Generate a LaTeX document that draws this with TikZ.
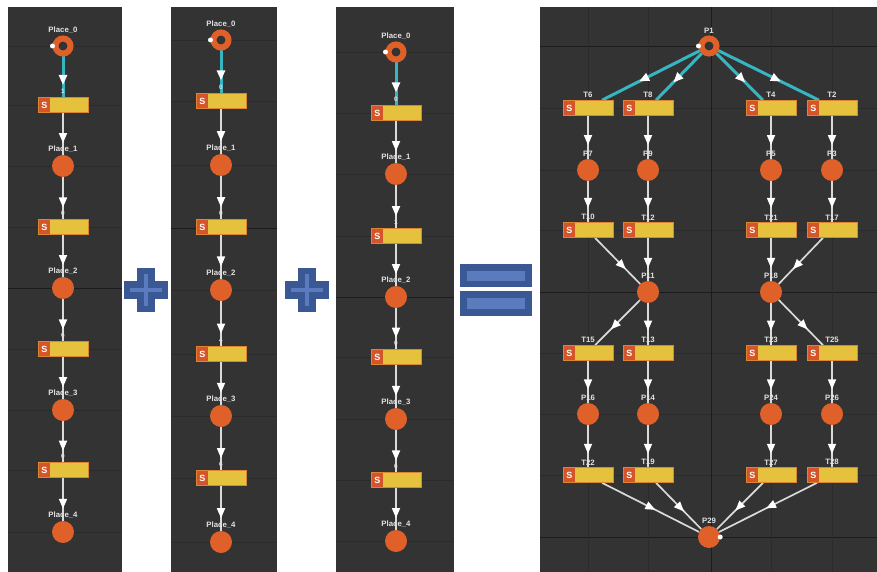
\documentclass[tikz,border=0pt]{standalone}
\usepackage{fontspec}
\setmainfont{Liberation Sans}
\usetikzlibrary{arrows.meta,decorations.markings,calc}
\pgfdeclarelayer{bgl}
\pgfdeclarelayer{arcl}
\pgfsetlayers{bgl,arcl,main}
\definecolor{panelbg}{HTML}{333333}
\definecolor{gridc}{HTML}{2B2B2B}
\definecolor{gridd}{HTML}{1C1C1C}
\definecolor{placec}{HTML}{E0602A}
\definecolor{transy}{HTML}{E5C13E}
\definecolor{transo}{HTML}{D4552A}
\definecolor{arcw}{HTML}{DADADA}
\definecolor{arcc}{HTML}{36B5C2}
\definecolor{lblc}{HTML}{E2E2E2}
\definecolor{blued}{HTML}{3A5894}
\definecolor{bluel}{HTML}{5A7CBE}
\tikzset{
  place/.style={circle, fill=placec, minimum size=22pt, inner sep=0pt},
  ringplace/.style={circle, draw=placec, line width=6pt, fill=panelbg, minimum size=15pt, inner sep=0pt},
  tok/.style={circle, fill=white, minimum size=5pt, inner sep=0pt},
  trans/.style={rectangle, fill=transy, draw=transo!55!transy, line width=0.6pt,
    minimum width=50pt, minimum height=15pt, inner sep=0pt,
    path picture={
      \fill[transo] ([xshift=0.8pt,yshift=0.8pt]path picture bounding box.south west)
        rectangle ([xshift=12pt,yshift=-0.8pt]path picture bounding box.north west);
      \pgftext[at={\pgfpointadd{\pgfpointanchor{path picture bounding box}{west}}{\pgfpoint{6.4pt}{0pt}}}]{\color{white}\fontsize{9}{9}\selectfont\bfseries S};
    }},
  every label/.style={text=lblc, font=\fontsize{7.8}{8.5}\selectfont\bfseries, inner sep=0.5pt},
  tl/.style={font=\fontsize{6.5}{7}\selectfont\bfseries, yshift=1.5pt},
  arcbase/.style={postaction={decorate}, decoration={markings,
      mark=at position #1 with {\arrow[white]{Triangle[width=8pt,length=10pt]}}}},
  warc/.style={draw=arcw, line width=1.7pt, arcbase=#1},
  warc/.default=0.72,
  carc/.style={draw=arcc, line width=3pt, arcbase=#1},
  carc/.default=0.62,
}
\begin{document}
\begin{tikzpicture}[x=1pt, y=-1pt, label distance=1.5pt]
\useasboundingbox (0,0) rectangle (877,572);
\begin{pgfonlayer}{bgl}
  \fill[white] (0,0) rectangle (877,572);
  \fill[panelbg] (8,7) rectangle (122,572);
  \fill[panelbg] (171,7) rectangle (277,572);
  \fill[panelbg] (336,7) rectangle (454,572);
  \fill[panelbg] (540,7) rectangle (877,572);
  % grids
  \foreach \y in {46,105,166,227,349,410,470,532} \draw[gridc, line width=0.8pt] (8,\y) -- (122,\y);
  \draw[gridd, line width=1pt] (8,288) -- (122,288);
  \foreach \y in {40,101,165,290,354,416,478,542} \draw[gridc, line width=0.8pt] (171,\y) -- (277,\y);
  \draw[gridd, line width=1pt] (171,228) -- (277,228);
  \foreach \y in {52,113,174,236,357,419,480,541} \draw[gridc, line width=0.8pt] (336,\y) -- (454,\y);
  \draw[gridd, line width=1pt] (336,297) -- (454,297);
  \foreach \y in {108,170,230,353,414,475} \draw[gridc, line width=0.8pt] (540,\y) -- (877,\y);
  \foreach \y in {47,292,537} \draw[gridd, line width=1pt] (540,\y) -- (877,\y);
  \foreach \x in {588,648,771,832} \draw[gridc, line width=0.8pt] (\x,7) -- (\x,572);
  \draw[gridd, line width=1pt] (711,7) -- (711,572);
  % plus signs
  \fill[blued] (124,281) rectangle (168,299);
  \fill[blued] (137,268) rectangle (155,312);
  \draw[bluel, line width=4pt] (130,290) -- (162,290);
  \draw[bluel, line width=4pt] (146,274) -- (146,306);
  \fill[blued] (285,281) rectangle (329,299);
  \fill[blued] (298,268) rectangle (316,312);
  \draw[bluel, line width=4pt] (291,290) -- (323,290);
  \draw[bluel, line width=4pt] (307,274) -- (307,306);
  % equals sign
  \fill[blued] (460,264) rectangle (532,287);
  \fill[bluel] (467,271) rectangle (525,281);
  \fill[blued] (460,291) rectangle (532,316);
  \fill[bluel] (467,298) rectangle (525,309);
\end{pgfonlayer}

% ---------- Panel 1 ----------
\node[ringplace, label=above:Place\_0] (aP0) at (63,46) {};
\node[tok] (aK) at (aP0.west) {};
\node[trans, label={[tl]above:1}] (aT0) at (63,105) {};
\node[place, label=above:Place\_1] (aP1) at (63,166) {};
\node[trans, label={[tl]above:0}] (aT1) at (63,227) {};
\node[place, label=above:Place\_2] (aP2) at (63,288) {};
\node[trans, label={[tl]above:6}] (aT2) at (63,349) {};
\node[place, label=above:Place\_3] (aP3) at (63,410) {};
\node[trans, label={[tl]above:0}] (aT3) at (63,470) {};
\node[place, label=above:Place\_4] (aP4) at (63,532) {};

% ---------- Panel 2 ----------
\node[ringplace, label=above:Place\_0] (bP0) at (221,40) {};
\node[tok] (bK) at (bP0.west) {};
\node[trans, label={[tl]above:0}] (bT0) at (221,101) {};
\node[place, label=above:Place\_1] (bP1) at (221,165) {};
\node[trans, label={[tl]above:0}] (bT1) at (221,227) {};
\node[place, label=above:Place\_2] (bP2) at (221,290) {};
\node[trans, label={[tl]above:4}] (bT2) at (221,354) {};
\node[place, label=above:Place\_3] (bP3) at (221,416) {};
\node[trans, label={[tl]above:6}] (bT3) at (221,478) {};
\node[place, label=above:Place\_4] (bP4) at (221,542) {};

% ---------- Panel 3 ----------
\node[ringplace, label=above:Place\_0] (cP0) at (396,52) {};
\node[tok] (cK) at (cP0.west) {};
\node[trans, label={[tl]above:0}] (cT0) at (396,113) {};
\node[place, label=above:Place\_1] (cP1) at (396,174) {};
\node[trans, label={[tl]above:1}] (cT1) at (396,236) {};
\node[place, label=above:Place\_2] (cP2) at (396,297) {};
\node[trans, label={[tl]above:0}] (cT2) at (396,357) {};
\node[place, label=above:Place\_3] (cP3) at (396,419) {};
\node[trans, label={[tl]above:6}] (cT3) at (396,480) {};
\node[place, label=above:Place\_4] (cP4) at (396,541) {};

% ---------- Panel 4 ----------
\node[ringplace, label=above:P1] (P1) at (709,46) {};
\node[tok] (P1k) at (P1.west) {};
\node[trans, label=above:T6] (T6) at (588,108) {};
\node[trans, label=above:T8] (T8) at (648,108) {};
\node[trans, label=above:T4] (T4) at (771,108) {};
\node[trans, label=above:T2] (T2) at (832,108) {};
\node[place, label=above:P7] (P7) at (588,170) {};
\node[place, label=above:P9] (P9) at (648,170) {};
\node[place, label=above:P5] (P5) at (771,170) {};
\node[place, label=above:P3] (P3) at (832,170) {};
\node[trans, label=above:T10] (T10) at (588,230) {};
\node[trans, label=above:T12] (T12) at (648,230) {};
\node[trans, label=above:T21] (T21) at (771,230) {};
\node[trans, label=above:T17] (T17) at (832,230) {};
\node[place, label=above:P11] (P11) at (648,292) {};
\node[place, label=above:P18] (P18) at (771,292) {};
\node[trans, label=above:T15] (T15) at (588,353) {};
\node[trans, label=above:T13] (T13) at (648,353) {};
\node[trans, label=above:T23] (T23) at (771,353) {};
\node[trans, label=above:T25] (T25) at (832,353) {};
\node[place, label=above:P16] (P16) at (588,414) {};
\node[place, label=above:P14] (P14) at (648,414) {};
\node[place, label=above:P24] (P24) at (771,414) {};
\node[place, label=above:P26] (P26) at (832,414) {};
\node[trans, label=above:T22] (T22) at (588,475) {};
\node[trans, label=above:T19] (T19) at (648,475) {};
\node[trans, label=above:T27] (T27) at (771,475) {};
\node[trans, label=above:T28] (T28) at (832,475) {};
\node[place, label=above:P29] (P29) at (709,537) {};
\node[tok] (P29k) at (P29.east) {};

\coordinate (T6in) at ($(T6.north)+(14,0)$);
\coordinate (T8in) at ($(T8.north)+(8,0)$);
\coordinate (T4in) at ($(T4.north)+(-8,0)$);
\coordinate (T2in) at ($(T2.north)+(-13,0)$);
\coordinate (T10out) at ($(T10.south)+(7,0)$);
\coordinate (T17out) at ($(T17.south)+(-9,0)$);
\coordinate (T15in) at ($(T15.north)+(7,0)$);
\coordinate (T25in) at ($(T25.north)+(-9,0)$);
\coordinate (T22out) at ($(T22.south)+(14,0)$);
\coordinate (T19out) at ($(T19.south)+(8,0)$);
\coordinate (T27out) at ($(T27.south)+(-8,0)$);
\coordinate (T28out) at ($(T28.south)+(-15,0)$);

\begin{pgfonlayer}{arcl}
  % panel 1-3 chains
  \foreach \s in {a,b,c}{
    \draw[carc=0.7] (\s P0) -- (\s T0);
    \draw[warc] (\s T0) -- (\s P1);
    \draw[warc] (\s P1) -- (\s T1);
    \draw[warc] (\s T1) -- (\s P2);
    \draw[warc] (\s P2) -- (\s T2);
    \draw[warc] (\s T2) -- (\s P3);
    \draw[warc] (\s P3) -- (\s T3);
    \draw[warc] (\s T3) -- (\s P4);
  }
  % panel 4
  \draw[carc] (P1) -- (T6in);
  \draw[carc] (P1) -- (T8in);
  \draw[carc] (P1) -- (T4in);
  \draw[carc] (P1) -- (T2in);
  \draw[warc=0.68] (T6) -- (P7);
  \draw[warc=0.68] (T8) -- (P9);
  \draw[warc=0.68] (T4) -- (P5);
  \draw[warc=0.68] (T2) -- (P3);
  \draw[warc=0.65] (P7) -- (T10);
  \draw[warc=0.65] (P9) -- (T12);
  \draw[warc=0.65] (P5) -- (T21);
  \draw[warc=0.65] (P3) -- (T17);
  \draw[warc=0.68] (T10out) -- (P11);
  \draw[warc=0.7] (T12) -- (P11);
  \draw[warc=0.7] (T21) -- (P18);
  \draw[warc=0.68] (T17out) -- (P18);
  \draw[warc=0.65] (P11) -- (T15in);
  \draw[warc=0.65] (P11) -- (T13);
  \draw[warc=0.65] (P18) -- (T23);
  \draw[warc=0.65] (P18) -- (T25in);
  \draw[warc=0.68] (T15) -- (P16);
  \draw[warc=0.68] (T13) -- (P14);
  \draw[warc=0.68] (T23) -- (P24);
  \draw[warc=0.68] (T25) -- (P26);
  \draw[warc=0.68] (P16) -- (T22);
  \draw[warc=0.68] (P14) -- (T19);
  \draw[warc=0.68] (P24) -- (T27);
  \draw[warc=0.68] (P26) -- (T28);
  \draw[warc=0.55] (T22out) -- (P29);
  \draw[warc=0.62] (T19out) -- (P29);
  \draw[warc=0.6] (T27out) -- (P29);
  \draw[warc=0.52] (T28out) -- (P29);
\end{pgfonlayer}
\end{tikzpicture}
\end{document}
